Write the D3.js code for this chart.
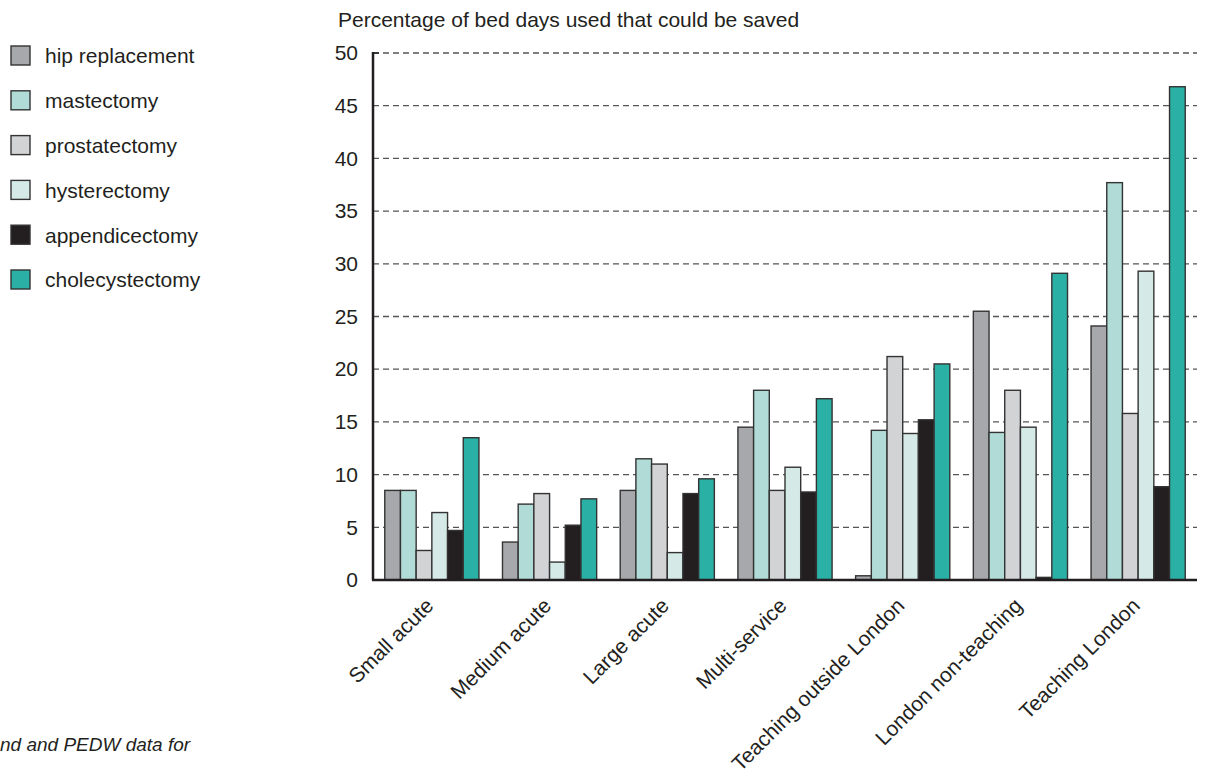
<!DOCTYPE html>
<html>
<head>
<meta charset="utf-8">
<script src="https://cdn.jsdelivr.net/npm/d3@7"></script>
<style>
  body { margin: 0; background: #fff; }
  svg { display: block; font-family: "Liberation Sans", Arial, sans-serif; }
</style>
</head>
<body>
<svg id="chart" width="1207" height="778"></svg>
<script>
const categories = ["Small acute", "Medium acute", "Large acute", "Multi-service",
  "Teaching outside London", "London non-teaching", "Teaching London"];
const seriesNames = ["hip replacement", "mastectomy", "prostatectomy", "hysterectomy",
  "appendicectomy", "cholecystectomy"];
const hipReplacement  = [8.5, 3.6, 8.5, 14.5, 0.4, 25.5, 24.1];
const mastectomy      = [8.5, 7.2, 11.5, 18.0, 14.2, 14.0, 37.7];
const prostatectomy   = [2.8, 8.2, 11.0, 8.5, 21.2, 18.0, 15.8];
const hysterectomy    = [6.4, 1.7, 2.6, 10.7, 13.9, 14.5, 29.3];
const appendicectomy  = [4.7, 5.2, 8.2, 8.35, 15.2, 0.25, 8.85];
const cholecystectomy = [13.5, 7.7, 9.6, 17.2, 20.5, 29.1, 46.8];
const yTicks = [0, 5, 10, 15, 20, 25, 30, 35, 40, 45, 50];
const titleText = "Percentage of bed days used that could be saved";
const footnoteText = "nd and PEDW data for";

const seriesValues = [hipReplacement, mastectomy, prostatectomy, hysterectomy, appendicectomy, cholecystectomy];
const colors = ["#a7a8ab", "#b0dbd6", "#d2d3d5", "#d5e9e6", "#231f20", "#2bb0a5"];

const svg = d3.select("#chart");
const mLeft = 373, mRight = 1197, mTop = 53, mBottom = 580;
const fs = 21;

const x0 = d3.scaleBand().domain(categories).range([mLeft, mRight]).paddingInner(0.2).paddingOuter(0.1);
const x1 = d3.scaleBand().domain(seriesNames).range([0, x0.bandwidth()]).padding(0);
const y = d3.scaleLinear().domain([0, 50]).range([mBottom, mTop]);

// gridlines
svg.append("g").selectAll("line").data(yTicks.filter(d => d > 0)).join("line")
  .attr("x1", mLeft).attr("x2", mRight)
  .attr("y1", d => y(d)).attr("y2", d => y(d))
  .attr("stroke", "#555").attr("stroke-width", 1.3).attr("stroke-dasharray", "6,4");

// title
svg.append("text").attr("x", 338).attr("y", 27).attr("font-size", fs).attr("fill", "#231f20").text(titleText);

// bars
const groups = svg.append("g").selectAll("g").data(categories).join("g")
  .attr("transform", d => `translate(${x0(d)},0)`);
groups.selectAll("rect").data((c, ci) => seriesNames.map((s, si) => ({s, si, v: seriesValues[si][ci]})))
  .join("rect")
  .attr("x", d => x1(d.s))
  .attr("y", d => y(d.v))
  .attr("width", x1.bandwidth())
  .attr("height", d => y(0) - y(d.v))
  .attr("fill", d => colors[d.si])
  .attr("stroke", "#333").attr("stroke-width", 1.4);

// y axis
const yAxis = svg.append("g").attr("transform", `translate(${mLeft},0)`)
  .call(d3.axisLeft(y).tickValues(yTicks).tickSize(0).tickPadding(15));
yAxis.select(".domain").remove();
yAxis.selectAll("text").attr("font-size", fs).attr("fill", "#231f20").attr("font-family", "Liberation Sans, Arial, sans-serif");
svg.append("line").attr("x1", mLeft).attr("x2", mLeft).attr("y1", mTop - 1).attr("y2", mBottom)
  .attr("stroke", "#231f20").attr("stroke-width", 2.5);
svg.append("line").attr("x1", mLeft).attr("x2", mLeft + 6).attr("y1", mTop).attr("y2", mTop)
  .attr("stroke", "#231f20").attr("stroke-width", 1.5);

// x axis
svg.append("line").attr("x1", mLeft - 1).attr("x2", mRight).attr("y1", mBottom).attr("y2", mBottom)
  .attr("stroke", "#231f20").attr("stroke-width", 2.5);
svg.append("g").selectAll("text").data(categories).join("text")
  .attr("transform", d => `translate(${x0(d) + x0.bandwidth() / 2 + 3},${mBottom + 27}) rotate(-45)`)
  .attr("text-anchor", "end").attr("font-size", fs).attr("fill", "#231f20")
  .text(d => d);

// legend
const legend = svg.append("g").selectAll("g").data(seriesNames).join("g")
  .attr("transform", (d, i) => `translate(11,${46 + i * 44.8})`);
legend.append("rect").attr("width", 19).attr("height", 19)
  .attr("fill", (d, i) => colors[i]).attr("stroke", "#333").attr("stroke-width", 1.4);
legend.append("text").attr("x", 34).attr("y", 10).attr("dy", "0.35em")
  .attr("font-size", fs).attr("fill", "#231f20").text(d => d);

// footnote fragment
svg.append("text").attr("x", 0).attr("y", 751).attr("font-size", 19).attr("font-style", "italic")
  .attr("fill", "#231f20").text(footnoteText);
</script>
</body>
</html>
